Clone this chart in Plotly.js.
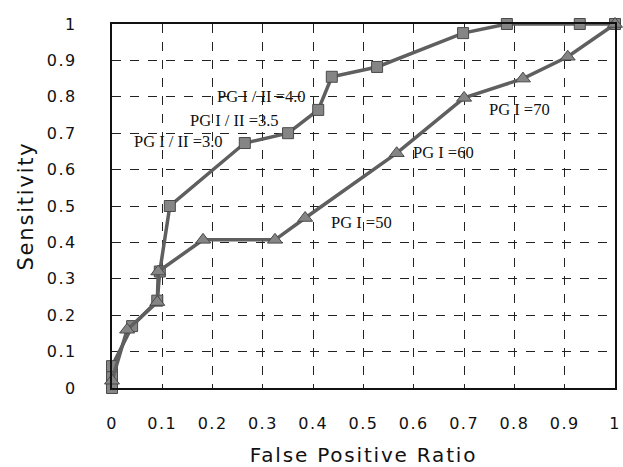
<!DOCTYPE html>
<html>
<head>
<meta charset="utf-8">
<script src="https://cdn.plot.ly/plotly-3.0.1.min.js"></script>
<style>
html,body{margin:0;padding:0;background:#fff;}
#chart{width:623px;height:467px;}
#chart .xtitle, #chart .ytitle{letter-spacing:1.8px;}
#chart .xtick text, #chart .ytick text{letter-spacing:1.5px;}
</style>
</head>
<body>
<div id="chart"></div>
<script>
// PG I / II ratio series (squares)
var ratioFPR  = [0.0, 0.0, 0.0, 0.04, 0.09, 0.095, 0.115, 0.264, 0.35, 0.41, 0.437, 0.527, 0.698, 0.785, 0.93, 1.0];
var ratioSens = [0.0, 0.03, 0.06, 0.17, 0.24, 0.32, 0.50, 0.673, 0.70, 0.764, 0.855, 0.882, 0.975, 1.0, 1.0, 1.0];
// PG I series (triangles)
var pg1FPR  = [0.0, 0.03, 0.09, 0.092, 0.181, 0.324, 0.384, 0.566, 0.70, 0.817, 0.906, 1.0];
var pg1Sens = [0.02, 0.16, 0.236, 0.32, 0.407, 0.407, 0.467, 0.645, 0.797, 0.85, 0.91, 1.0];
var xTicks = [0, 0.1, 0.2, 0.3, 0.4, 0.5, 0.6, 0.7, 0.8, 0.9, 1];
var yTicks = [0, 0.1, 0.2, 0.3, 0.4, 0.5, 0.6, 0.7, 0.8, 0.9, 1];
var labels = ["PG I / II =3.0", "PG I / II =3.5", "PG I / II =4.0", "PG I =50", "PG I =60", "PG I =70"];

var traces = [
  {x: ratioFPR, y: ratioSens, mode: 'lines+markers', type: 'scatter', cliponaxis: false,
   line: {color: '#5f5f5f', width: 3.5},
   marker: {symbol: 'square', size: 11, color: '#858585', line: {color: '#4a4a4a', width: 1}}},
  {x: pg1FPR, y: pg1Sens, mode: 'lines+markers', type: 'scatter', cliponaxis: false,
   line: {color: '#5f5f5f', width: 3.5},
   marker: {symbol: 'triangle-up', size: 13, color: '#858585', line: {color: '#4a4a4a', width: 1}}}
];

var annPos = [[0.133, 0.676], [0.243, 0.736], [0.298, 0.80], [0.497, 0.456], [0.66, 0.646], [0.811, 0.764]];
var annotations = labels.map(function (t, i) {
  return {x: annPos[i][0], y: annPos[i][1], text: t, showarrow: false, xref: 'x', yref: 'y',
          font: {family: 'Liberation Serif, serif', size: 16.5, color: '#111'}};
});

var axisCommon = {
  range: [0, 1], showgrid: true, gridcolor: '#222', griddash: 'dash', gridwidth: 1,
  zeroline: false, showline: true, mirror: true, linecolor: '#111', linewidth: 2,
  ticks: '', fixedrange: true
};

var layout = {
  width: 623, height: 467,
  margin: {l: 112, r: 8, t: 24, b: 79},
  paper_bgcolor: '#fff', plot_bgcolor: '#fff',
  showlegend: false,
  xaxis: Object.assign({}, axisCommon, {tickvals: xTicks, ticklabelstandoff: 20,
    tickfont: {family: 'DejaVu Sans, sans-serif', size: 16, color: '#111'},
    title: {text: 'False Positive Ratio', standoff: 16, font: {family: 'DejaVu Sans, sans-serif', size: 20, color: '#111'}}}),
  yaxis: Object.assign({}, axisCommon, {tickvals: yTicks, ticklabelstandoff: 30,
    tickfont: {family: 'DejaVu Sans, sans-serif', size: 16, color: '#111'},
    title: {text: 'Sensitivity', standoff: 12, font: {family: 'DejaVu Sans, sans-serif', size: 21, color: '#111'}}}),
  annotations: annotations
};

Plotly.newPlot('chart', traces, layout, {displayModeBar: false, staticPlot: true});
</script>
</body>
</html>
